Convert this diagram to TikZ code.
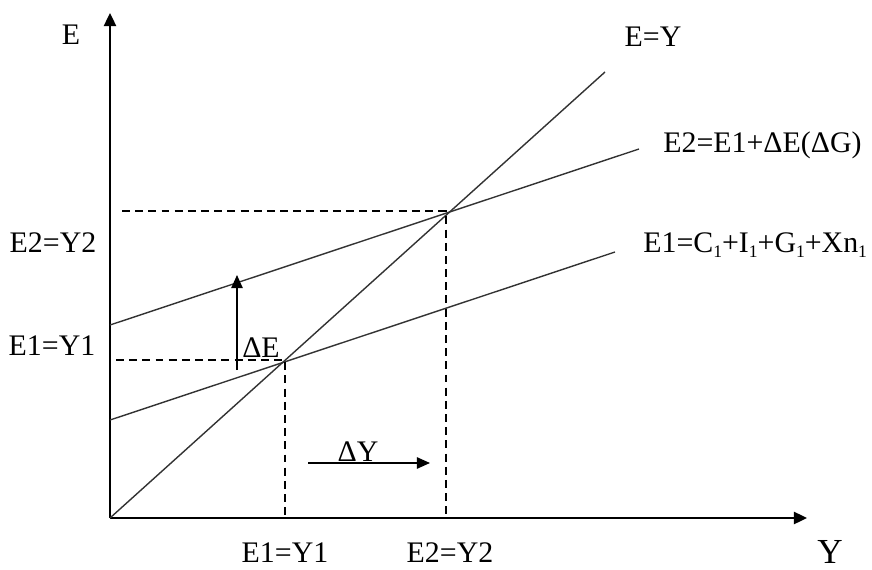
\documentclass[tikz,border=0pt]{standalone}
\usepackage{fontspec}
\setmainfont{Liberation Serif}
\usetikzlibrary{arrows.meta,positioning}
\newcommand{\lowidx}[1]{\raisebox{-0.4ex}{\fontsize{10}{12}\selectfont #1}}

\begin{document}
\begin{tikzpicture}[x=0.02cm, y=0.02cm,
  axis/.style={line width=1.1pt, -{Triangle[length=7.5pt,width=7pt]}},
  curve/.style={line width=0.8pt, black!80},
  guide/.style={line width=0.8pt, dash pattern=on 4.5pt off 3pt},
  move/.style={line width=0.9pt, -{Triangle[length=7.5pt,width=6.5pt]}},
  lab/.style={font=\fontsize{17}{20}\selectfont, inner sep=0pt}]

\useasboundingbox (0,0) rectangle (872,569);

% Points
\coordinate (O) at (110,51);
\coordinate (ytop) at (110,556);
\coordinate (xend) at (807,51);
\coordinate (diag) at (605,497);
\coordinate (e1a) at (110,149);
\coordinate (e1b) at (615,317);
\coordinate (e2a) at (110,244);
\coordinate (e2b) at (639,420);
\coordinate (A) at (285,209);
\coordinate (B) at (446,358);

% Axes
\draw[axis] (O) -- (ytop);
\draw[axis] (O) -- (xend);

% Lines
\draw[curve] (O) -- (diag);
\draw[curve] (e1a) -- (e1b);
\draw[curve] (e2a) -- (e2b);

% Guides
\coordinate (gA) at (116,209);
\coordinate (gB) at (122,358);
\coordinate (fA) at (285,51);
\coordinate (fB) at (446,51);
\draw[guide] (gA) -- (A) -- (fA);
\draw[guide] (gB) -- (B) -- (fB);

% Shifts
\coordinate (dEa) at (237,199);
\coordinate (dEb) at (237,294);
\coordinate (dYa) at (308,106);
\coordinate (dYb) at (430,106);
\draw[move] (dEa) -- (dEb);
\draw[move] (dYa) -- (dYb);

% Labels
\node[lab] (lE) at (71,534) {E};
\node[lab, font=\fontsize{20}{24}\selectfont] (lY) at (830,17) {Y};
\node[lab] (l45) at (653,532) {E=Y};
\node[lab, anchor=west] (lE2) at (663,424) {E2=E1+ΔE(ΔG)};
\node[lab, anchor=west] (lE1) at (643,324) {E1=C\lowidx{1}+I\lowidx{1}+G\lowidx{1}+Xn\lowidx{1}};
\node[lab] (lE2Y2) at (53,326) {E2=Y2};
\node[lab] (lE1Y1) at (52,223) {E1=Y1};
\node[lab] (ldE) at (261,221) {ΔE};
\node[lab] (ldY) at (358,117) {ΔY};
\node[lab] (lY1) at (285,16) {E1=Y1};
\node[lab] (lY2) at (450,16) {E2=Y2};

\end{tikzpicture}
\end{document}
